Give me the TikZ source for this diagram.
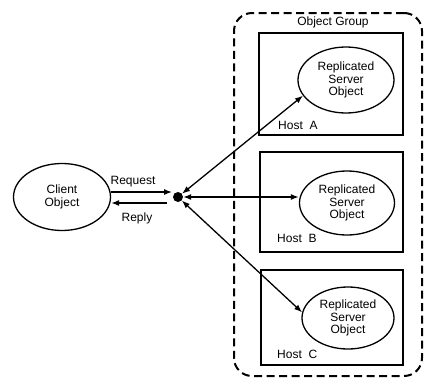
\documentclass[tikz,border=0pt]{standalone}
\usepackage{fontspec}
\setmainfont{Liberation Sans}
\usetikzlibrary{arrows.meta,shapes.geometric}
\begin{document}
\begin{tikzpicture}[x=1pt,y=-1pt,
  txt/.style={font=\fontsize{12}{12.5}\selectfont, inner sep=0pt},
  obj/.style={draw, ellipse, line width=1.3pt, inner sep=0pt, align=center,
              font=\fontsize{12}{12.5}\selectfont},
  hostbox/.style={draw, line width=1.3pt, inner sep=0pt},
  conn/.style={line width=1.3pt},
  onetip/.style={conn, -{Latex[length=8pt,width=6pt]}},
  twotip/.style={conn, {Latex[length=8pt,width=6pt]}-{Latex[length=8pt,width=6pt]}},
  group/.style={draw, line width=2pt, dash pattern=on 8pt off 4.5pt,
                rounded corners=18pt, inner sep=0pt}
]
\useasboundingbox (0,0) rectangle (424,381);

% object group
\node[group, minimum width=188, minimum height=363] (grp) at (328,194.5) {};
\node[txt] (gl) at (333,22) {Object Group};

% hosts
\node[hostbox, minimum width=144, minimum height=102] (hA) at (331,84) {};
\node[hostbox, minimum width=143, minimum height=100] (hB) at (331.5,202) {};
\node[hostbox, minimum width=142, minimum height=95] (hC) at (332,317.5) {};

\node[txt, anchor=west] (lA) at (278,125) {Host\ \ A};
\node[txt, anchor=west] (lB) at (277,238) {Host\ \ B};
\node[txt, anchor=west] (lC) at (277,354) {Host\ \ C};

% server objects
\node[obj, minimum width=96, minimum height=66] (sA) at (346,80) {Replicated\\Server\\Object};
\node[obj, minimum width=95, minimum height=64] (sB) at (347,203) {Replicated\\Server\\Object};
\node[obj, minimum width=92, minimum height=62] (sC) at (348,318) {Replicated\\Server\\Object};

% client
\node[obj, minimum width=97, minimum height=67] (cl) at (62,197) {Client\\Object};

% hub
\node[circle, fill=black, inner sep=0pt, minimum size=10] (hub) at (178,197) {};

% request / reply
\coordinate (rq) at (172,192);
\coordinate (rp) at (167,203);
\draw[onetip] (cl.east |- rq) -- (rq);
\draw[onetip] (rp) -- (cl.east |- rp);
\node[txt] (rql) at (133,182) {Request};
\node[txt] (rpl) at (137,218) {Reply};

% hub to servers
\draw[twotip] (hub) -- (sA.200);
\draw[twotip] (hub) -- (hub -| sB.west);
\draw[twotip] (hub) -- (sC.173);
\end{tikzpicture}
\end{document}
